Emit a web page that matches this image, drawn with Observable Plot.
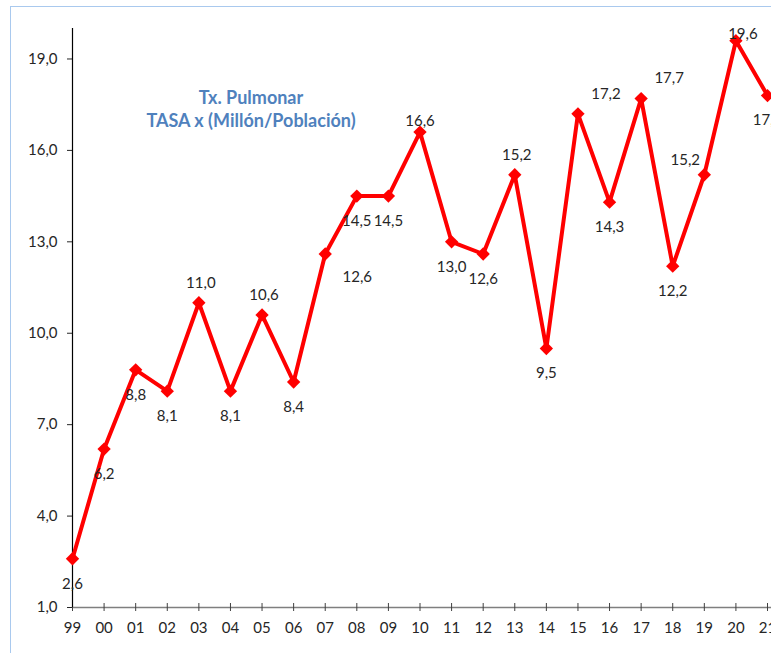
<!DOCTYPE html>
<html>
<head>
<meta charset="utf-8">
<script src="https://cdn.jsdelivr.net/npm/d3@7"></script>
<script src="https://cdn.jsdelivr.net/npm/@observablehq/plot@0.6"></script>
<style>
html, body { margin: 0; padding: 0; background: #fff; overflow: hidden; }
#wrap { position: relative; width: 771px; height: 653px; overflow: hidden; font-family: Lato, sans-serif; }
#border { position: absolute; left: 10px; top: 6px; width: 820px; height: 720px;
  border-left: 1.5px solid #a9c9ee; border-top: 1.5px solid #a9c9ee; pointer-events: none; }
#title { position: absolute; left: 0; top: 86px; width: 502px; text-align: center;
  font-weight: bold; font-size: 18px; line-height: 23px; color: #4f81bd; }
#chart svg { display: block; }
</style>
</head>
<body>
<div id="wrap">
  <div id="chart"></div>
  <div id="title">Tx. Pulmonar<br>TASA x (Millón/Población)</div>
  <div id="border"></div>
</div>
<script>
// ---- data ----
const years = ["99","00","01","02","03","04","05","06","07","08","09","10","11","12","13","14","15","16","17","18","19","20","21"];
const rates = [2.6, 6.2, 8.8, 8.1, 11.0, 8.1, 10.6, 8.4, 12.6, 14.5, 14.5, 16.6, 13.0, 12.6, 15.2, 9.5, 17.2, 14.3, 17.7, 12.2, 15.2, 19.6, 17.8];
const yTicks = [1, 4, 7, 10, 13, 16, 19];
const labelPlacement = ["below","below","below","below","above","below","above","below","below-right","below","below","above-tight","below","below","above","below","above-right","below","above-right","below","above-left","above-close","below"];

// ---- placement offsets (px) ----
const offsets = {
  "below": [0, 25],
  "above": [2, -20],
  "below-right": [32, 23],
  "above-tight": [0, -11],
  "above-right": [28, -20],
  "above-left": [-19, -15],
  "above-close": [7, -7]
};

const data = years.map((yr, i) => ({year: yr, rate: rates[i], place: labelPlacement[i]}));
const fmt = v => v.toFixed(1).replace(".", ",");
const yMin = 1, yMax = 20;

const labelMarks = Object.keys(offsets).map(k =>
  Plot.text(data.filter(d => d.place === k), {
    x: "year", y: "rate", text: d => fmt(d.rate),
    dx: offsets[k][0], dy: offsets[k][1],
    fill: "#262626", fontSize: 15
  })
);

const chart = Plot.plot({
  width: 771,
  height: 653,
  marginLeft: 72,
  marginRight: 0,
  marginTop: 28,
  marginBottom: 46,
  style: {fontFamily: "Lato, sans-serif", fontSize: "15px", color: "#262626", background: "transparent", overflow: "visible"},
  x: {type: "point", domain: years, range: [72, 767], padding: 0, round: false, tickSize: 0, tickPadding: 15, label: null},
  y: {domain: [yMin, yMax], ticks: yTicks, tickFormat: fmt, tickSize: 5, tickPadding: 10, label: null},
  marks: [
    Plot.ruleY([yMin], {stroke: "#7f7f7f", strokeWidth: 1.5}),
    Plot.ruleX(years, {y1: () => yMin, y2: () => yMin, insetTop: -4, insetBottom: -4, stroke: "#404040"}),
    Plot.ruleX([years[0]], {y1: () => yMin, y2: () => yMax, stroke: "#000", strokeWidth: 1.2}),
    Plot.line(data, {x: "year", y: "rate", stroke: "#ff0000", strokeWidth: 4}),
    Plot.dot(data, {x: "year", y: "rate", symbol: "diamond2", r: 6, fill: "#ff0000", stroke: "none"}),
    ...labelMarks
  ]
});
document.getElementById("chart").appendChild(chart);
</script>
</body>
</html>
